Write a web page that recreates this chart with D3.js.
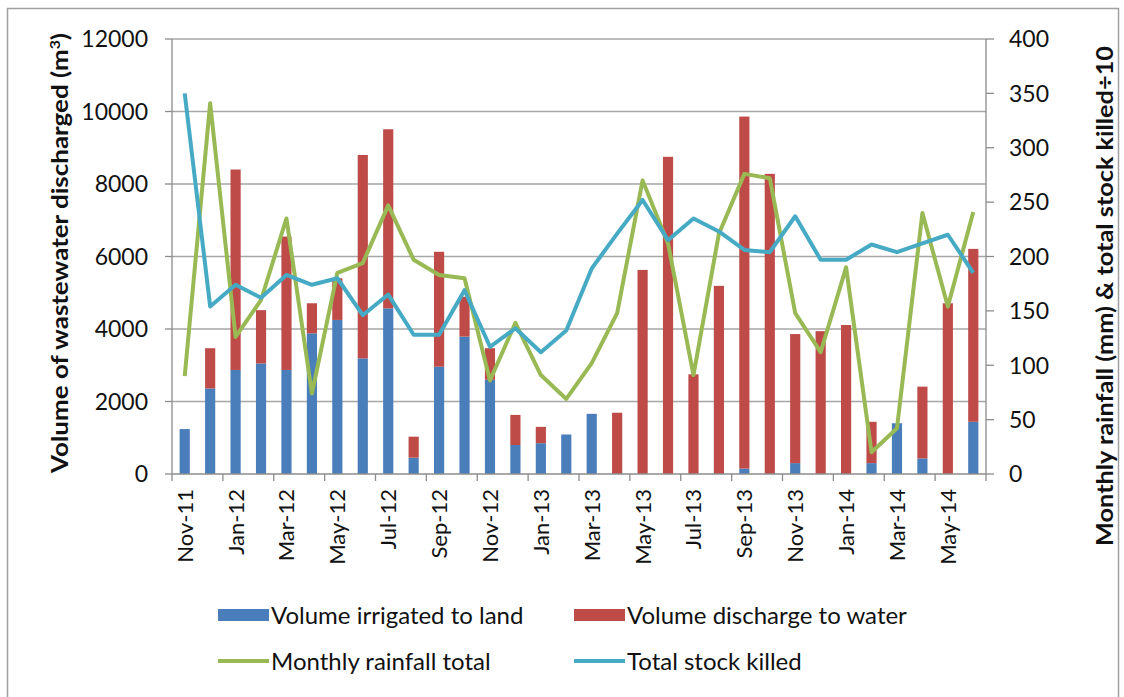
<html>

<head>
  <script src="https://d3js.org/d3.v7.min.js"></script>

  <style>
    body {
      margin: 0;
      background: white;
    }

    text {
      font-family: Lato, "Open Sans", sans-serif;
      fill: #111;
    }

    .grid line {
      stroke: #a6a6a6;
      stroke-width: 1.3px;
    }

    .axis-title {
      font-weight: bold;
      font-size: 23px;
    }
  </style>
</head>

<body>
  <svg id="chart" height="697" width="1124"></svg>

  <script>
    // months in the chart
    const months = ["Nov-11", "Dec-11", "Jan-12", "Feb-12", "Mar-12", "Apr-12", "May-12", "Jun-12",
      "Jul-12", "Aug-12", "Sep-12", "Oct-12", "Nov-12", "Dec-12", "Jan-13", "Feb-13",
      "Mar-13", "Apr-13", "May-13", "Jun-13", "Jul-13", "Aug-13", "Sep-13", "Oct-13",
      "Nov-13", "Dec-13", "Jan-14", "Feb-14", "Mar-14", "Apr-14", "May-14", "Jun-14"];

    // volume irrigated to land (m3)
    const irrigated = [1240, 2360, 2870, 3050, 2870, 3880, 4250, 3190,
      4570, 450, 2960, 3790, 2600, 800, 850, 1090,
      1660, 0, 0, 0, 0, 0, 150, 0,
      300, 0, 0, 300, 1400, 430, 0, 1440];

    // volume discharged to water (m3)
    const discharged = [0, 1110, 5530, 1470, 3680, 830, 1150, 5610,
      4940, 580, 3170, 1100, 870, 830, 450, 0,
      0, 1690, 5630, 8750, 2750, 5190, 9710, 8280,
      3560, 3940, 4110, 1140, 0, 1980, 4710, 4770];

    // monthly rainfall total (mm)
    const rainfall = [90, 341, 126, 160, 235, 74, 185, 194,
      247, 197, 183, 180, 86, 139, 91, 69,
      102, 148, 270, 212, 91, 221, 276, 272,
      148, 112, 190, 20, 42, 240, 154, 241];

    // total stock killed / 10
    const stockKilled = [350, 154, 174, 162, 183, 174, 180, 146,
      165, 128, 128, 169, 117, 134, 112, 132,
      189, 221, 252, 215, 235, 223, 206, 204,
      237, 197, 197, 211, 204, 212, 220, 185];

    const leftTicks = [0, 2000, 4000, 6000, 8000, 10000, 12000];
    const rightTicks = [0, 50, 100, 150, 200, 250, 300, 350, 400];

    const svg = d3.select("#chart");
    const width = +svg.attr("width");
    const height = +svg.attr("height");
    const margin = { top: 39, right: 138, bottom: 223, left: 172 };
    const plotWidth = width - margin.left - margin.right;
    const plotHeight = height - margin.top - margin.bottom;

    // outer frame
    svg.append("rect")
      .attr("x", 7.5).attr("y", 8.5)
      .attr("width", 1111).attr("height", 700)
      .attr("fill", "none")
      .attr("stroke", "#a0a0a0")
      .attr("stroke-width", 1.5);

    const x = d3.scaleBand()
      .domain(d3.range(months.length))
      .range([0, plotWidth])
      .paddingInner(0.6)
      .paddingOuter(0.3);

    const yLeft = d3.scaleLinear().domain([0, 12000]).range([plotHeight, 0]);
    const yRight = d3.scaleLinear().domain([0, 400]).range([plotHeight, 0]);

    const plot = svg.append("g")
      .attr("transform", "translate(" + margin.left + "," + margin.top + ")");

    // gridlines
    plot.append("g").attr("class", "grid")
      .selectAll("line").data(leftTicks.slice(1))
      .join("line")
      .attr("x1", 0).attr("x2", plotWidth)
      .attr("y1", d => yLeft(d)).attr("y2", d => yLeft(d));

    // stacked bars
    const rows = months.map((m, i) => ({ i: i, land: irrigated[i], water: discharged[i] }));
    const stack = d3.stack().keys(["land", "water"])(rows);
    const barColors = { land: "#4a7ebb", water: "#be4b48" };

    plot.selectAll("g.series").data(stack)
      .join("g")
      .attr("class", "series")
      .attr("fill", d => barColors[d.key])
      .selectAll("rect").data(d => d)
      .join("rect")
      .attr("x", d => x(d.data.i))
      .attr("width", x.bandwidth())
      .attr("y", d => yLeft(d[1]))
      .attr("height", d => yLeft(d[0]) - yLeft(d[1]));

    // lines
    const cx = i => x(i) + x.bandwidth() / 2;
    const line = d3.line().x((d, i) => cx(i)).y(d => yRight(d));

    plot.append("path").datum(rainfall)
      .attr("fill", "none")
      .attr("stroke", "#98b954")
      .attr("stroke-width", 4)
      .attr("stroke-linejoin", "round")
      .attr("d", line);

    plot.append("path").datum(stockKilled)
      .attr("fill", "none")
      .attr("stroke", "#46aac5")
      .attr("stroke-width", 4)
      .attr("stroke-linejoin", "round")
      .attr("d", line);

    // axes lines
    const axisColor = "#8c8c8c";
    plot.append("line")
      .attr("x1", 0).attr("x2", 0).attr("y1", 0).attr("y2", plotHeight)
      .attr("stroke", axisColor).attr("stroke-width", 1.3);
    plot.append("line")
      .attr("x1", plotWidth).attr("x2", plotWidth).attr("y1", 0).attr("y2", plotHeight)
      .attr("stroke", axisColor).attr("stroke-width", 1.3);
    plot.append("line")
      .attr("x1", 0).attr("x2", plotWidth).attr("y1", plotHeight).attr("y2", plotHeight)
      .attr("stroke", axisColor).attr("stroke-width", 1.3);

    // left ticks
    const left = plot.append("g");
    left.selectAll("line").data(leftTicks)
      .join("line")
      .attr("x1", -7).attr("x2", 0)
      .attr("y1", d => yLeft(d)).attr("y2", d => yLeft(d))
      .attr("stroke", axisColor).attr("stroke-width", 1.3);
    left.selectAll("text").data(leftTicks)
      .join("text")
      .attr("x", -24)
      .attr("y", d => yLeft(d))
      .attr("dy", "0.36em")
      .attr("text-anchor", "end")
      .style("font-size", "23px")
      .text(d => d);

    // right ticks
    const right = plot.append("g");
    right.selectAll("line").data(rightTicks)
      .join("line")
      .attr("x1", plotWidth).attr("x2", plotWidth + 8)
      .attr("y1", d => yRight(d)).attr("y2", d => yRight(d))
      .attr("stroke", axisColor).attr("stroke-width", 1.3);
    right.selectAll("text").data(rightTicks)
      .join("text")
      .attr("x", plotWidth + 23)
      .attr("y", d => yRight(d))
      .attr("dy", "0.36em")
      .style("font-size", "23px")
      .text(d => d);

    // x ticks (every other month)
    const step = x.step();
    const labelIdx = d3.range(0, months.length, 2);
    plot.append("g").selectAll("line").data(labelIdx.concat([months.length]))
      .join("line")
      .attr("x1", d => d * step).attr("x2", d => d * step)
      .attr("y1", plotHeight).attr("y2", plotHeight + 7)
      .attr("stroke", axisColor).attr("stroke-width", 1.3);

    plot.append("g").selectAll("text").data(labelIdx)
      .join("text")
      .attr("transform", d => "translate(" + cx(d) + "," + (plotHeight + 15) + ") rotate(-90)")
      .attr("text-anchor", "end")
      .attr("dy", "0.36em")
      .style("font-size", "22px")
      .text(d => months[d]);

    // axis titles
    const lt = svg.append("text")
      .attr("class", "axis-title")
      .attr("transform", "translate(60,253) rotate(-90)")
      .attr("text-anchor", "middle")
      .attr("dy", "0.36em")
      .attr("textLength", 440)
      .attr("lengthAdjust", "spacingAndGlyphs");
    lt.append("tspan").text("Volume of wastewater discharged (m");
    lt.append("tspan").attr("baseline-shift", "super").style("font-size", "14px").text("3");
    lt.append("tspan").text(")");

    svg.append("text")
      .attr("class", "axis-title")
      .attr("transform", "translate(1105,296) rotate(-90)")
      .attr("text-anchor", "middle")
      .attr("dy", "0.36em")
      .attr("textLength", 500)
      .attr("lengthAdjust", "spacingAndGlyphs")
      .text("Monthly rainfall (mm) & total stock killed÷10");

    // legend
    const legendItems = [
      { label: "Volume irrigated to land", color: "#4a7ebb", type: "bar", x: 218, y: 615 },
      { label: "Volume discharge to water", color: "#be4b48", type: "bar", x: 574, y: 615 },
      { label: "Monthly rainfall total", color: "#98b954", type: "line", x: 218, y: 661 },
      { label: "Total stock killed", color: "#46aac5", type: "line", x: 574, y: 661 }
    ];
    const legend = svg.append("g").selectAll("g").data(legendItems)
      .join("g")
      .attr("transform", d => "translate(" + d.x + "," + d.y + ")");
    legend.append("rect")
      .attr("x", 0)
      .attr("y", d => d.type === "bar" ? -6 : -2)
      .attr("width", 51)
      .attr("height", d => d.type === "bar" ? 12 : 4)
      .attr("fill", d => d.color);
    legend.append("text")
      .attr("x", 53)
      .attr("dy", "0.36em")
      .style("font-size", "24px")
      .text(d => d.label);
  </script>
</body>

</html>
